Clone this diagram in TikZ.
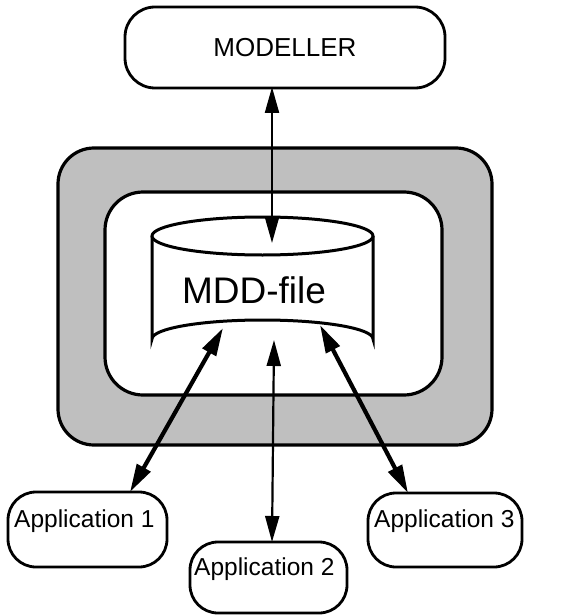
\documentclass[tikz,border=0pt]{standalone}
\usepackage{fontspec}
\setmainfont{Liberation Sans}
\usetikzlibrary{arrows.meta}
\begin{document}
\begin{tikzpicture}[x=1pt,y=-1pt,
  roundbox/.style={draw,line width=2.8pt,rounded corners=30pt,inner sep=0pt},
  lbl/.style={anchor=base west,inner sep=0pt,font=\fontsize{24.5}{24.5}\selectfont},
  thinarrow/.style={line width=2.2pt,{Triangle[length=26pt,width=14pt]}-{Triangle[length=26pt,width=14pt]}},
  thickarrow/.style={line width=4.2pt,{Triangle[length=28pt,width=15pt]}-{Triangle[length=28pt,width=15pt]}}]
\useasboundingbox (0,0) rectangle (563,615);
% outer shaded box and inner white box
\draw[line width=3.2pt,fill=black!25,rounded corners=36pt] (58,148) rectangle (492,445);
\draw[line width=3.2pt,fill=white,rounded corners=38pt] (105,192) rectangle (442,395);
% cylinder
\draw[line width=3pt,fill=white] (152,236) -- (152,339) arc[start angle=180,end angle=360,x radius=110.5,y radius=19] -- (373,236);
\draw[line width=3pt,fill=white] (262.5,236) ellipse[x radius=110.5,y radius=19];
\node[font=\fontsize{37}{37}\selectfont,inner sep=0pt] (mdd) at (254,290) {MDD-file};
% modeller
\node[roundbox,minimum width=320pt,minimum height=81pt,font=\fontsize{26}{26}\selectfont] (mod) at (285,47.5) {MODELLER};
% applications
\node[roundbox,rounded corners=28pt,minimum width=159pt,minimum height=75pt] (a1) at (87.5,529.5) {};
\node[roundbox,rounded corners=28pt,minimum width=157pt,minimum height=71pt] (a2) at (268.5,577.5) {};
\node[roundbox,rounded corners=28pt,minimum width=154pt,minimum height=74pt] (a3) at (445,530) {};
\node[lbl] (t1) at (14,527) {Application 1};
\node[lbl] (t2) at (194,575) {Application 2};
\node[lbl] (t3) at (374,527) {Application 3};
% connector end points
\coordinate (mtop) at (272,87);
\coordinate (ctop) at (272,243);
\coordinate (c1) at (223,328);
\coordinate (c2) at (274,340);
\coordinate (c3) at (320,325);
\coordinate (e1) at (130,492);
\coordinate (e2) at (272,542);
\coordinate (e3) at (408,493);
\draw[thinarrow] (mtop) -- (ctop);
\draw[thinarrow] (c2) -- (e2);
\draw[thickarrow] (c1) -- (e1);
\draw[thickarrow] (c3) -- (e3);
\end{tikzpicture}
\end{document}
